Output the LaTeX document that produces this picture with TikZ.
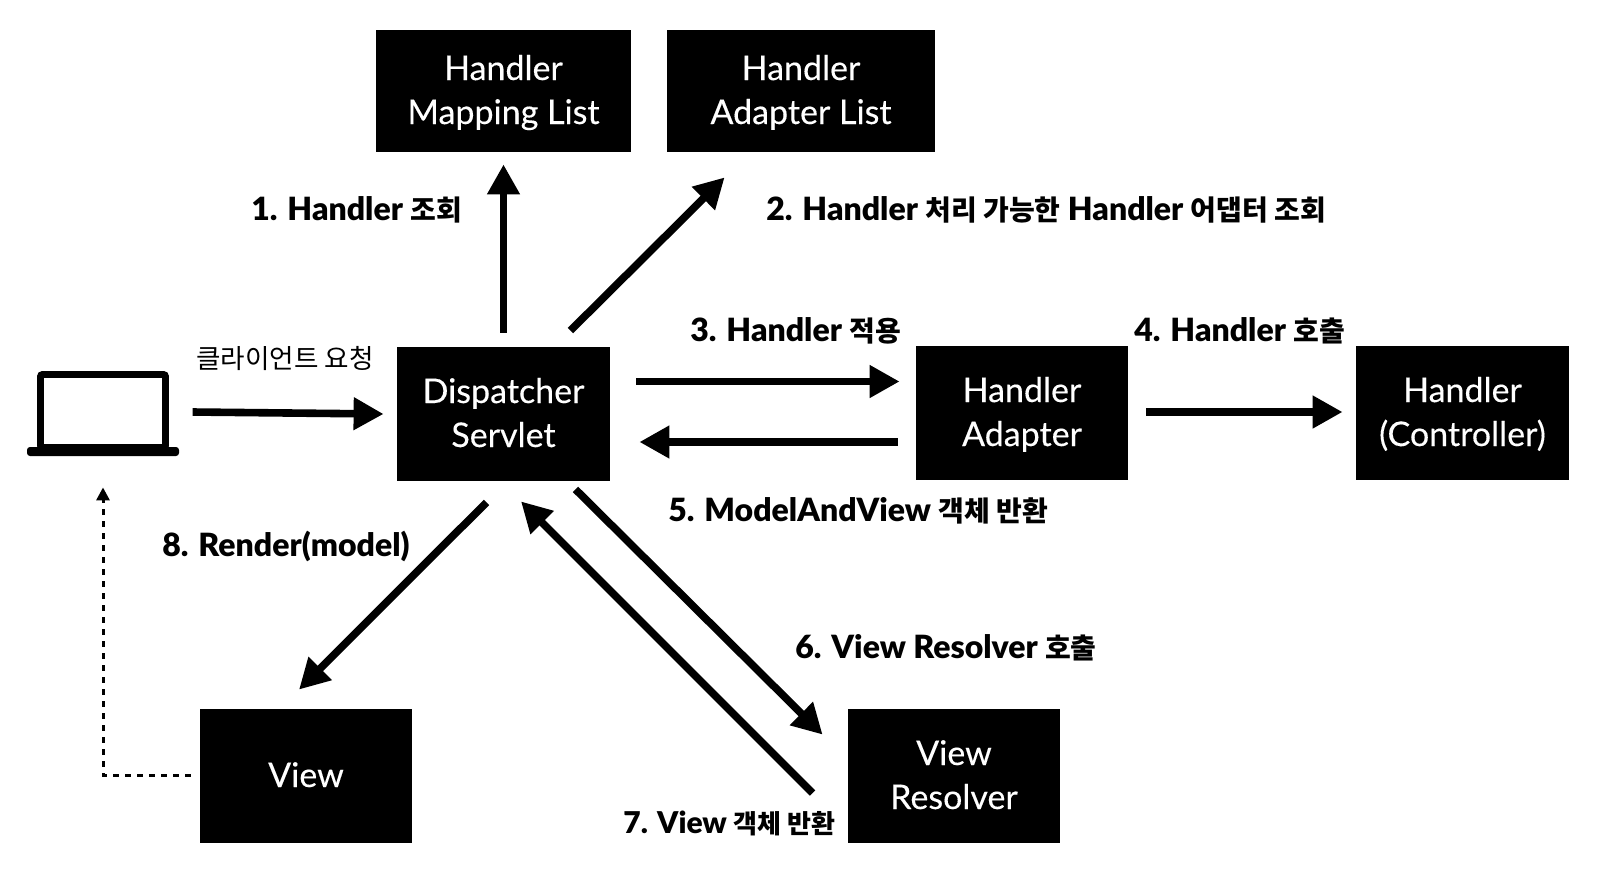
\documentclass[tikz,border=0pt]{standalone}
\usepackage{fontspec}
\setmainfont{Lato}
\newfontfamily\krfont{Noto Sans CJK KR}
\newfontfamily\heavyfont{Lato Black}
\newfontfamily\boxfont[FakeBold=0.25]{Lato}
\usetikzlibrary{arrows.meta}
\newcommand{\kr}[2][14]{{\krfont\bfseries\fontsize{#1}{18}\selectfont #2}}
\newcommand{\boxstrut}{\rule[-5pt]{0pt}{21pt}}
\tikzset{
  blackbox/.style={fill=black, text=white, font=\fontsize{17}{22}\selectfont\boxfont, align=center, inner sep=0pt, minimum width=106pt, minimum height=67pt},
  steplabel/.style={anchor=base west, inner sep=0pt, font=\fontsize{16}{18}\selectfont\heavyfont},
  bigarrow/.style={line width=3.8pt, -{Triangle[length=15pt, width=15.5pt]}},
  dasharrow/.style={line width=1.5pt, dash pattern=on 2.8pt off 3.2pt, -{Triangle[length=6.5pt, width=6.5pt]}}
}
\begin{document}
\begin{tikzpicture}[x=0.5pt, y=-0.5pt]
  \useasboundingbox (0,0) rectangle (1606,884);
  % boxes
  \node[blackbox, minimum width=127.5pt, minimum height=61pt] (mappingList) at (503.5,91) {\boxstrut Handler\\\boxstrut Mapping List};
  \node[blackbox, minimum width=134pt, minimum height=61pt] (adapterList) at (801,91) {\boxstrut Handler\\\boxstrut Adapter List};
  \node[blackbox, minimum width=106.5pt] (dispatcher) at (503.5,414) {\boxstrut Dispatcher\\\boxstrut Servlet};
  \node[blackbox] (adapter) at (1022,413) {\boxstrut Handler\\\boxstrut Adapter};
  \node[blackbox, minimum width=106.5pt] (controller) at (1462.5,413) {\boxstrut Handler\\\boxstrut (Controller)};
  \node[blackbox] (view) at (306,776) {\boxstrut View};
  \node[blackbox] (resolver) at (954,776) {\boxstrut View\\\boxstrut Resolver};
  % laptop
  \node[draw, line width=3.4pt, rounded corners=1pt, inner sep=0pt, minimum width=62.5pt, minimum height=36.5pt] (laptop) at (103,411) {};
  \node[fill=black, rounded corners=1.5pt, inner sep=0pt, minimum width=76pt, minimum height=4.5pt] (laptopBase) at (103,451.5) {};
  % arrows
  \draw[bigarrow] ([shift={(-204,-2)}]dispatcher.west) -- ([shift={(-13,0)}]dispatcher.west);
  \draw[bigarrow] ([shift={(0,-14)}]dispatcher.north) -- ([shift={(0,12)}]mappingList.south);
  \draw[bigarrow] ([shift={(-40,-16)}]dispatcher.north east) -- ([shift={(58,25)}]adapterList.south west);
  \draw[bigarrow] ([shift={(26,-32.5)}]dispatcher.east) -- ([shift={(-16,-31.5)}]adapter.west);
  \draw[bigarrow] ([shift={(18,-1)}]adapter.east) -- ([shift={(-13,-1)}]controller.west);
  \draw[bigarrow] ([shift={(-18,29)}]adapter.west) -- ([shift={(29,28)}]dispatcher.east);
  \draw[bigarrow] ([shift={(-35,17)}]resolver.west) -- ([shift={(17.5,20)}]dispatcher.south);
  \draw[bigarrow] ([shift={(72,8)}]dispatcher.south) -- ([shift={(-25,26)}]resolver.north west);
  \draw[bigarrow] ([shift={(-17,21)}]dispatcher.south) -- ([shift={(-7,-19)}]view.north);
  \draw[dasharrow] ([shift={(-9,-1)}]view.west) -- (103,775) -- ([shift={(0,31)}]laptopBase.south);
  % labels
  \node[anchor=base, inner sep=0pt, font=\fontsize{13.3}{16}\selectfont] (clientLabel) at (285,368) {{\krfont 클라이언트 요청}};
  \node[steplabel] (lookupMapping) at (251,220) {1. Handler \kr{조회}};
  \node[steplabel] (lookupAdapter) at (766,220) {2. Handler \kr{처리 가능한} Handler \kr{어댑터 조회}};
  \node[steplabel] (apply) at (690,341) {3. Handler \kr{적용}};
  \node[steplabel] (call) at (1134,341) {4. Handler \kr{호출}};
  \node[steplabel] (modelView) at (668,521) {5. ModelAndView \kr{객체 반환}};
  \node[steplabel] (callResolver) at (795,658) {6. View Resolver \kr{호출}};
  \node[steplabel, font=\fontsize{15}{18}\selectfont\heavyfont] (viewObject) at (623,833) {7. View \kr[13]{객체 반환}};
  \node[steplabel] (render) at (162,556) {8. Render(model)};
\end{tikzpicture}
\end{document}
